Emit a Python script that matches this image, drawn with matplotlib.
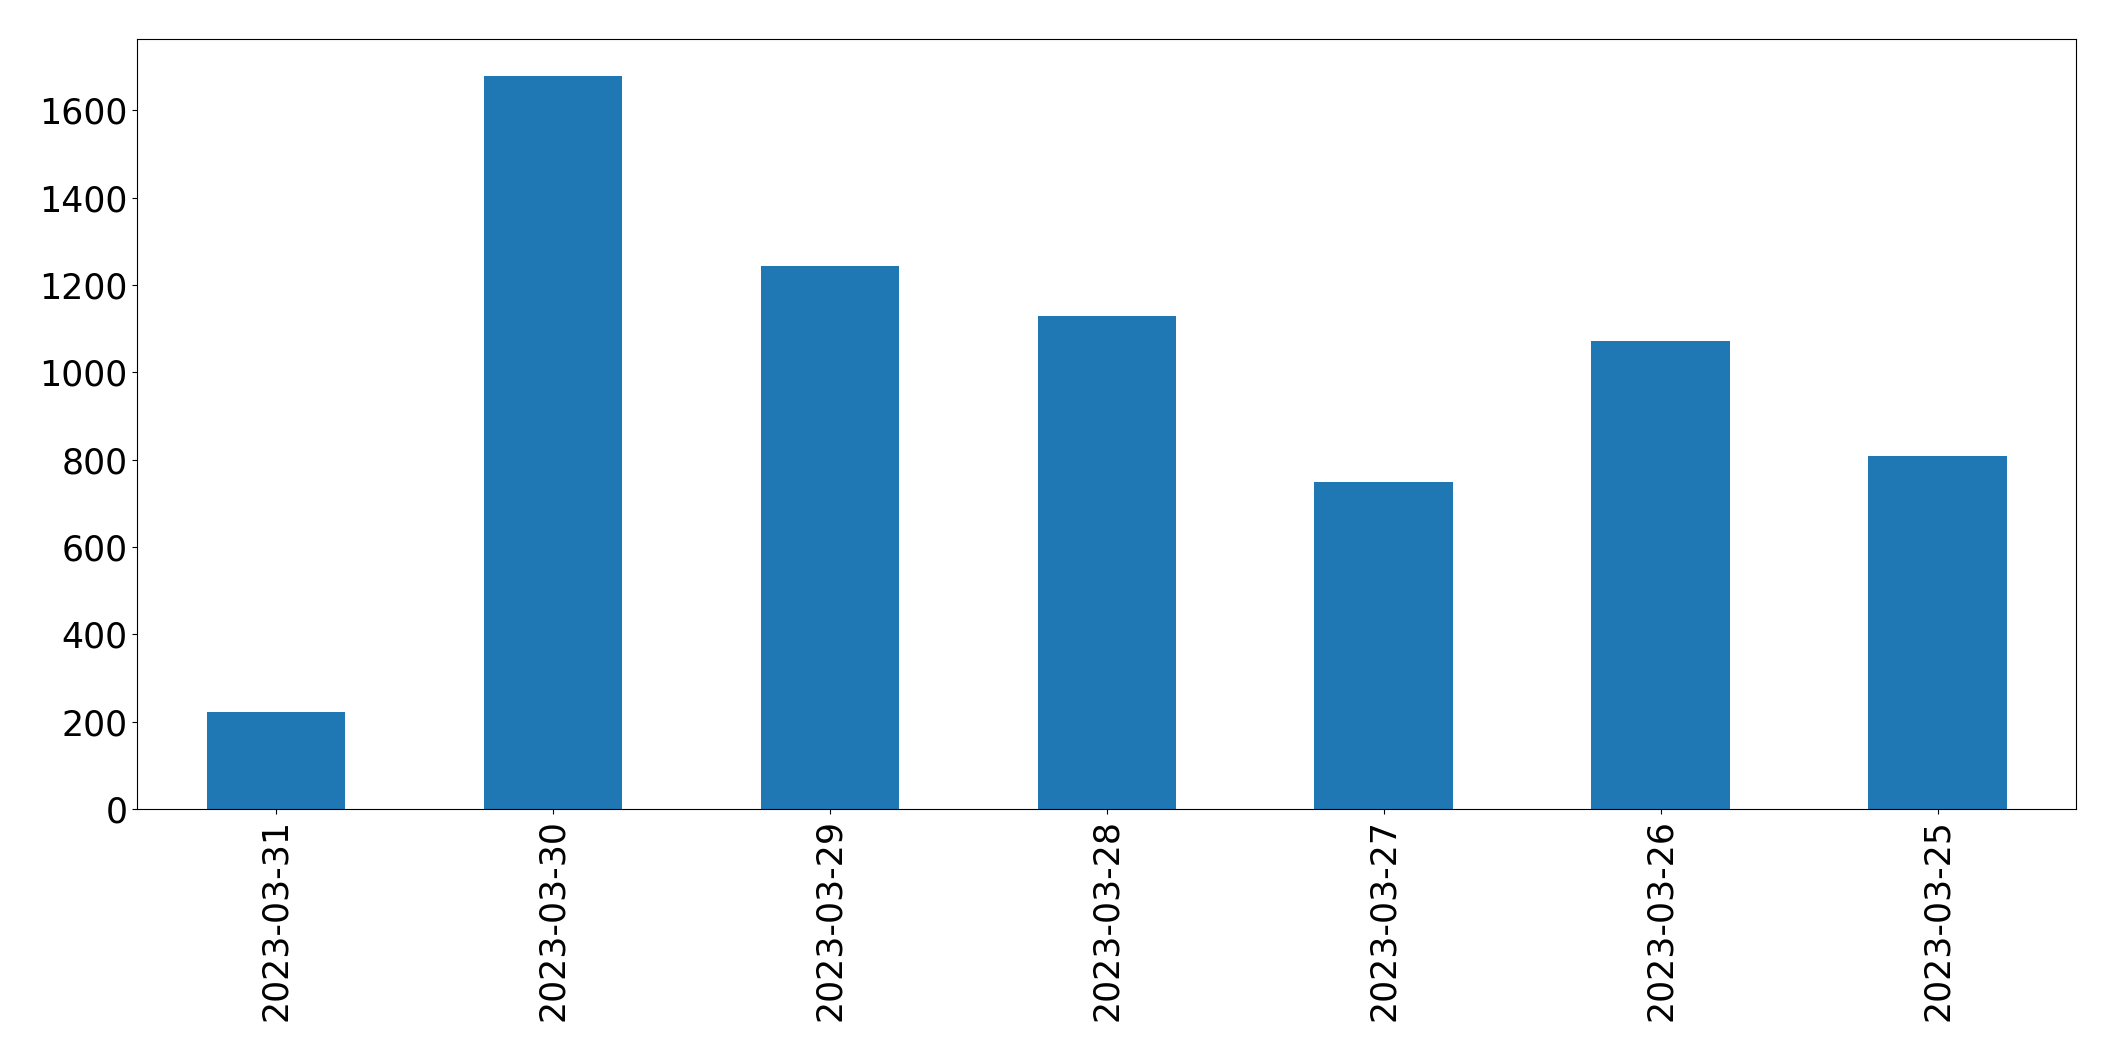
import matplotlib
matplotlib.use("Agg")
import matplotlib.pyplot as plt

dates = ["2023-03-31", "2023-03-30", "2023-03-29", "2023-03-28",
         "2023-03-27", "2023-03-26", "2023-03-25"]
values = [222, 1679, 1243, 1130, 749, 1072, 809]

fig = plt.figure(figsize=(21.15, 10.61), dpi=100)
ax = fig.add_axes([0.065, 0.2375, 0.9166, 0.7255])
x = list(range(len(dates)))
ax.bar(x, values, width=0.5, color="#1f77b4")
ax.set_xlim(-0.5, len(dates) - 0.5)
ax.set_xticks(x)
ax.set_xticklabels(dates, rotation=90)
ax.tick_params(axis="both", labelsize=25)
fig.savefig("out.png", dpi=100)
